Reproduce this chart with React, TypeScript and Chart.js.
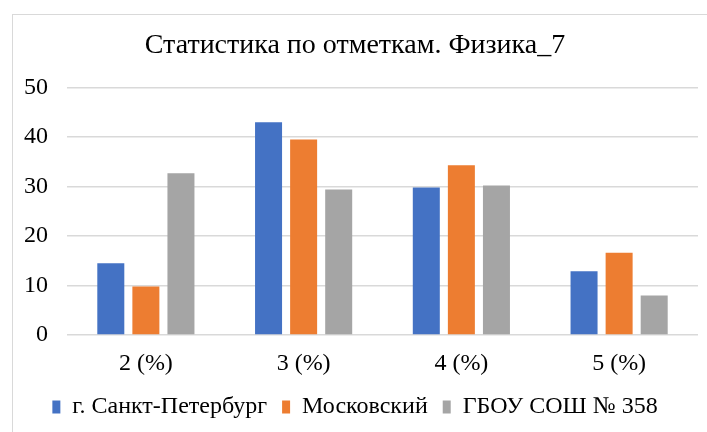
import React, { useEffect, useRef } from "react";
import { Chart, registerables } from "chart.js";

Chart.register(...registerables);

const categories = ["2 (%)", "3 (%)", "4 (%)", "5 (%)"];
const seriesNames = ["г. Санкт-Петербург", "Московский", "ГБОУ СОШ № 358"];
const spbValues = [14.5, 43.0, 29.8, 12.9];
const moskValues = [9.8, 39.5, 34.3, 16.6];
const schoolValues = [32.7, 29.4, 30.2, 8.0];
const yTicks = [0, 10, 20, 30, 40, 50];
const titleText = "Статистика по отметкам. Физика_7";

const colors = ["#4472C4", "#ED7D31", "#A5A5A5"];
const FAMS = ["Liberation Serif", "Times New Roman", "Tinos"];
const FONT = "'Liberation Serif', 'Times New Roman', serif";

export default function App() {
  const ref = useRef<HTMLCanvasElement | null>(null);

  useEffect(() => {
    if (!ref.current) return;
    let chart: Chart | null = null;
    let cancelled = false;
    const make = () => {
      if (cancelled || !ref.current) return;
      chart = new Chart(ref.current, {
        type: "bar",
        data: {
          labels: categories,
          datasets: [spbValues, moskValues, schoolValues].map((vals, i) => ({
            label: seriesNames[i],
            data: vals,
            backgroundColor: colors[i],
            borderWidth: 0,
            categoryPercentage: 0.667,
            barPercentage: 0.77,
          })),
        },
        options: {
          responsive: false,
          animation: false,
          layout: { padding: { left: 0, right: 20, top: 0, bottom: 3 } },
          plugins: {
            title: {
              display: true,
              text: titleText,
              color: "#000",
              font: { family: FONT, size: 28, weight: 400, style: "" as any },
              padding: { top: 15, bottom: 25 },
            },
            legend: {
              position: "bottom",
              labels: {
                color: "#000",
                font: { family: FONT, size: 24, style: "" as any },
                boxWidth: 8,
                boxHeight: 13,
                padding: 15,
              },
            },
            tooltip: { enabled: false },
          },
          scales: {
            x: {
              grid: { display: false },
              border: { display: false },
              afterFit: (scale: any) => {
                scale.height = 45;
              },
              ticks: {
                color: "#000",
                font: { family: FONT, size: 24, style: "" as any },
                padding: 6,
              },
            },
            y: {
              min: 0,
              max: 50,
              afterBuildTicks: (scale: any) => {
                scale.ticks = yTicks.map((v) => ({ value: v }));
              },
              afterFit: (scale: any) => {
                scale.width = 55;
              },
              grid: { color: "#D9D9D9", lineWidth: 1.5, drawTicks: false },
              border: { display: false },
              ticks: {
                color: "#000",
                font: { family: FONT, size: 24, style: "" as any },
                padding: 19,
              },
            },
          },
        },
      });
    };
    const fonts = (document as any).fonts;
    const allText =
      "Статистика abc 123 " + titleText + seriesNames.join(" ") + categories.join(" ");
    const onDone = () => {
      if (chart) chart.update("none");
    };
    if (fonts && fonts.load) {
      const jobs: Promise<any>[] = [];
      FAMS.forEach((f) => {
        ["20px", "24px", "28px"].forEach((s) => {
          jobs.push(fonts.load(`${s} '${f}'`, "Статистика abc 123").catch(() => null));
          jobs.push(fonts.load(`${s} '${f}'`, allText).catch(() => null));
        });
      });
      Promise.all(jobs)
        .then(() => (fonts.ready ? fonts.ready : null))
        .catch(() => null)
        .then(make);
      fonts.addEventListener && fonts.addEventListener("loadingdone", onDone);
    } else {
      make();
    }
    return () => {
      cancelled = true;
      if (fonts && fonts.removeEventListener) fonts.removeEventListener("loadingdone", onDone);
      if (chart) chart.destroy();
    };
  }, []);

  return (
    <div
      style={{
        position: "fixed",
        left: 0,
        top: 0,
        width: 707,
        height: 432,
        overflow: "hidden",
        background: "#fff",
      }}
    >
      <canvas
        ref={ref}
        width={706}
        height={418}
        style={{ position: "absolute", left: 12, top: 14, display: "block" }}
      />
      <div
        style={{
          position: "absolute",
          left: 12,
          top: 14,
          width: 720,
          height: 440,
          border: "1.5px solid #D9D9D9",
          pointerEvents: "none",
        }}
      />
    </div>
  );
}
